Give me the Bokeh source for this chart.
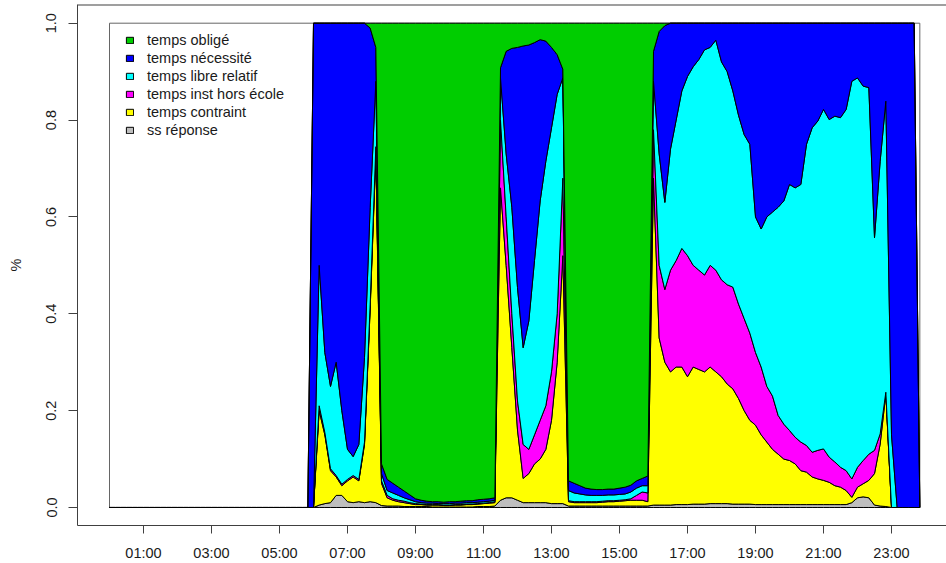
import numpy as np
from bokeh.plotting import figure
from bokeh.models import Range1d, FixedTicker, Legend, LegendItem, Span
from bokeh.embed import file_html
from bokeh.resources import INLINE

# 10-minute time slots of the day
times = [f"{h:02d}:{m:02d}" for h in range(24) for m in range(0, 60, 10)]

categories = ["temps obligé", "temps nécessité", "temps libre relatif",
              "temps inst hors école", "temps contraint", "ss réponse"]
colors = ["#00CD00", "#0000FF", "#00FFFF", "#FF00FF", "#FFFF00", "#BEBEBE"]

# shares per time slot (one line = one hour, 6 slots)
ss_reponse = [
    0, 0, 0, 0, 0, 0,
    0, 0, 0, 0, 0, 0,
    0, 0, 0, 0, 0, 0,
    0, 0, 0, 0, 0, 0,
    0, 0, 0, 0, 0, 0,
    0, 0, 0, 0, 0, 0,
    0, .005, .008, .01, .025, .025,
    .012, .01, .012, .01, .012, .01,
    .004, .003, .003, .003, .002, .002,
    .002, .002, .002, .001, .001, .001,
    .001, .001, .001, .001, .001, .002,
    .002, .002, .003, .015, .02, .02,
    .015, .01, .01, .01, .01, .01,
    .008, .008, .008, .003, .003, .003,
    .003, .003, .003, .003, .003, .003,
    .003, .003, .003, .003, .003, .003,
    .005, .005, .005, .005, .006, .006,
    .006, .007, .007, .007, .008, .008,
    .008, .008, .007, .007, .007, .007,
    .006, .006, .006, .006, .006, .006,
    .006, .006, .006, .006, .006, .006,
    .006, .006, .006, .006, .006, .01,
    .02, .022, .02, .005, .003, .002,
    0, 0, 0, 0, 0, 0,
]
temps_contraint = [
    0, 0, 0, 0, 0, 0,
    0, 0, 0, 0, 0, 0,
    0, 0, 0, 0, 0, 0,
    0, 0, 0, 0, 0, 0,
    0, 0, 0, 0, 0, 0,
    0, 0, 0, 0, 0, 0,
    0, .195, .142, .066, .038, .02,
    .043, .053, .043, .12, .398, .72,
    .046, .017, .012, .009, .008, .006,
    .004, .004, .003, .004, .004, .003,
    .003, .004, .004, .005, .005, .005,
    .006, .007, .007, .645, .48, .31,
    .145, .05, .06, .08, .09, .11,
    .172, .292, .512, .009, .007, .007,
    .007, .007, .007, .008, .009, .009,
    .01, .011, .012, .012, .012, .009,
    .675, .345, .295, .275, .284, .284,
    .264, .283, .278, .273, .282, .272,
    .262, .247, .238, .218, .193, .173,
    .164, .144, .129, .114, .104, .094,
    .091, .084, .07, .067, .057, .053,
    .05, .046, .039, .036, .029, .011,
    .022, .027, .036, .065, .128, .233,
    0, 0, 0, 0, 0, 0,
]
temps_inst_hors_ecole = [
    0, 0, 0, 0, 0, 0,
    0, 0, 0, 0, 0, 0,
    0, 0, 0, 0, 0, 0,
    0, 0, 0, 0, 0, 0,
    0, 0, 0, 0, 0, 0,
    0, 0, 0, 0, 0, 0,
    0, .01, .005, .004, .003, .003,
    .003, .003, .003, .005, .01, .015,
    .005, .005, .003, .003, .003, .002,
    .002, .001, .001, .001, .001, .001,
    .001, .001, .001, .001, .001, .001,
    .001, .001, .002, .14, .1, .07,
    .06, .07, .05, .06, .08, .09,
    .1, .1, .16, .002, .002, .002,
    .002, .002, .002, .002, .002, .002,
    .002, .002, .003, .01, .017, .018,
    .1, .15, .15, .21, .22, .245,
    .25, .21, .205, .2, .21, .21,
    .2, .205, .21, .195, .19, .18,
    .15, .14, .115, .11, .08, .072,
    .062, .055, .059, .055, .051, .059,
    .065, .052, .049, .041, .041, .038,
    .041, .048, .054, .048, .021, .003,
    0, 0, 0, 0, 0, 0,
]
temps_libre_relatif = [
    0, 0, 0, 0, 0, 0,
    0, 0, 0, 0, 0, 0,
    0, 0, 0, 0, 0, 0,
    0, 0, 0, 0, 0, 0,
    0, 0, 0, 0, 0, 0,
    0, 0, 0, 0, 0, 0,
    0, .29, .165, .17, .234, .152,
    .062, .039, .072, .175, .2, .135,
    .015, .01, .012, .01, .007, .006,
    .004, .003, .003, .003, .002, .003,
    .003, .003, .003, .003, .003, .003,
    .003, .003, .003, .087, .13, .22,
    .234, .2, .265, .36, .453, .505,
    .504, .453, .207, .021, .018, .016,
    .014, .013, .013, .012, .012, .012,
    .012, .012, .014, .015, .013, .015,
    .1, .23, .18, .25, .29, .325,
    .37, .41, .435, .465, .45, .475,
    .45, .44, .405, .39, .38, .39,
    .28, .285, .35, .38, .43, .461,
    .508, .515, .532, .622, .67, .68,
    .701, .697, .714, .722, .746, .821,
    .804, .773, .757, .439, .563, .601,
    .15, 0, 0, 0, 0, 0,
]
temps_necessite = [
    0, 0, 0, 0, 0, 0,
    0, 0, 0, 0, 0, 0,
    0, 0, 0, 0, 0, 0,
    0, 0, 0, 0, 0, 0,
    0, 0, 0, 0, 0, 0,
    0, 0, 0, 0, 0, 0,
    1, .5, .68, .75, .7, .8,
    .88, .895, .87, .69, .37, .07,
    .02, .023, .02, .017, .014, .01,
    .006, .005, .004, .003, .004, .003,
    .004, .003, .004, .004, .004, .005,
    .005, .005, .005, .021, .212, .328,
    .496, .623, .57, .45, .333, .248,
    .166, .082, .018, .02, .02, .017,
    .014, .013, .012, .012, .012, .012,
    .013, .014, .014, .015, .015, .02,
    .062, .253, .365, .26, .2, .14,
    .11, .09, .075, .055, .05, .035,
    .08, .1, .14, .19, .23, .25,
    .4, .425, .4, .39, .38, .367,
    .333, .34, .333, .25, .216, .202,
    .178, .199, .192, .195, .178, .12,
    .113, .13, .133, .443, .285, .161,
    .85, 1, 1, 1, 1, 0,
]
temps_oblige = [
    0, 0, 0, 0, 0, 0,
    0, 0, 0, 0, 0, 0,
    0, 0, 0, 0, 0, 0,
    0, 0, 0, 0, 0, 0,
    0, 0, 0, 0, 0, 0,
    0, 0, 0, 0, 0, 0,
    0, 0, 0, 0, 0, 0,
    0, 0, 0, 0, .01, .05,
    .91, .942, .95, .958, .966, .974,
    .982, .985, .987, .988, .988, .989,
    .988, .988, .987, .986, .986, .984,
    .983, .982, .98, .092, .058, .052,
    .05, .047, .045, .04, .034, .037,
    .05, .065, .095, .945, .95, .955,
    .96, .962, .963, .963, .962, .962,
    .96, .958, .954, .945, .94, .935,
    .058, .017, .005, 0, 0, 0,
    0, 0, 0, 0, 0, 0,
    0, 0, 0, 0, 0, 0,
    0, 0, 0, 0, 0, 0,
    0, 0, 0, 0, 0, 0,
    0, 0, 0, 0, 0, 0,
    0, 0, 0, 0, 0, 0,
    0, 0, 0, 0, 0, 0,
]

x_tick_hours = [1, 3, 5, 7, 9, 11, 13, 15, 17, 19, 21, 23]
x_tick_labels = ["01:00", "03:00", "05:00", "07:00", "09:00", "11:00",
                 "13:00", "15:00", "17:00", "19:00", "21:00", "23:00"]
y_ticks = [0.0, 0.2, 0.4, 0.6, 0.8, 1.0]
y_tick_labels = ["0.0", "0.2", "0.4", "0.6", "0.8", "1.0"]

# ---------------------------------------------------------------
hours = np.array([int(t[:2]) + int(t[3:]) / 60 for t in times])

# stacking order, bottom -> top
stack_series = [ss_reponse, temps_contraint, temps_inst_hors_ecole,
                temps_libre_relatif, temps_necessite, temps_oblige]
stack_names = categories[::-1]
stack_colors = colors[::-1]

FONT = "Liberation Sans"
FS = "14.5px"
TXT = "#1a1a1a"
FRAME = "#404040"

W, H = 946, 563
LEFT, TOP, BOTTOM = 77, 4, 38
PX_PER_HOUR = 34.0
x0 = -32 / PX_PER_HOUR
x1 = x0 + (W - LEFT) / PX_PER_HOUR

p = figure(width=W, height=H, output_backend="svg", toolbar_location=None,
           x_range=Range1d(x0, x1), y_range=Range1d(-0.0372, 1.0386),
           min_border_left=LEFT, min_border_right=0, min_border_top=TOP,
           min_border_bottom=BOTTOM)
p.grid.visible = False
p.outline_line_color = None
p.background_fill_color = "white"
p.border_fill_color = "white"

# white panel (0..1 over the full day) with its grey outline
p.quad(left=hours[0], right=hours[-1], bottom=0, top=1,
       fill_color="white", line_color="#666666", line_width=1)

renderers = {}
lower = np.zeros(len(hours))
for name, col, vals in zip(stack_names, stack_colors, stack_series):
    upper = lower + np.array(vals, dtype=float)
    xs = np.concatenate([hours, hours[::-1]])
    ys = np.concatenate([upper, lower[::-1]])
    r = p.patch(xs, ys, fill_color=col, line_color="black", line_width=1)
    renderers[name] = r
    lower = upper

# axes
for ax in (p.xaxis[0], p.yaxis[0]):
    ax.axis_line_color = FRAME
    ax.axis_line_width = 1
    ax.major_tick_line_color = FRAME
    ax.major_tick_in = 0
    ax.minor_tick_line_color = None
    ax.major_label_text_font = FONT
    ax.major_label_text_font_size = FS
    ax.major_label_text_color = TXT

p.xaxis.ticker = FixedTicker(ticks=x_tick_hours)
p.xaxis.major_label_overrides = {h: lab for h, lab in zip(x_tick_hours, x_tick_labels)}
p.xaxis.major_tick_out = 8
p.xaxis.major_label_standoff = 11

p.yaxis.ticker = FixedTicker(ticks=y_ticks)
p.yaxis.major_label_overrides = {v: lab for v, lab in zip(y_ticks, y_tick_labels)}
p.yaxis.major_tick_out = 9
p.yaxis.major_label_standoff = 12
p.yaxis.major_label_orientation = "vertical"
p.yaxis.axis_label = "%"
p.yaxis.axis_label_text_font = FONT
p.yaxis.axis_label_text_font_size = FS
p.yaxis.axis_label_text_font_style = "normal"
p.yaxis.axis_label_text_color = TXT
p.yaxis.axis_label_standoff = 20

p.add_layout(Span(location=p.y_range.end, dimension="width",
                  line_color=FRAME, line_width=2))

legend = Legend(
    items=[LegendItem(label=c, renderers=[renderers[c]]) for c in categories],
    location=(48, 386), border_line_color=None, background_fill_alpha=0,
    padding=0, margin=0, spacing=0, glyph_width=9, glyph_height=8,
    label_height=18, label_standoff=13,
    label_text_font=FONT, label_text_font_size=FS, label_text_color=TXT)
p.add_layout(legend)

open("out.html", "w").write(file_html(p, INLINE))
